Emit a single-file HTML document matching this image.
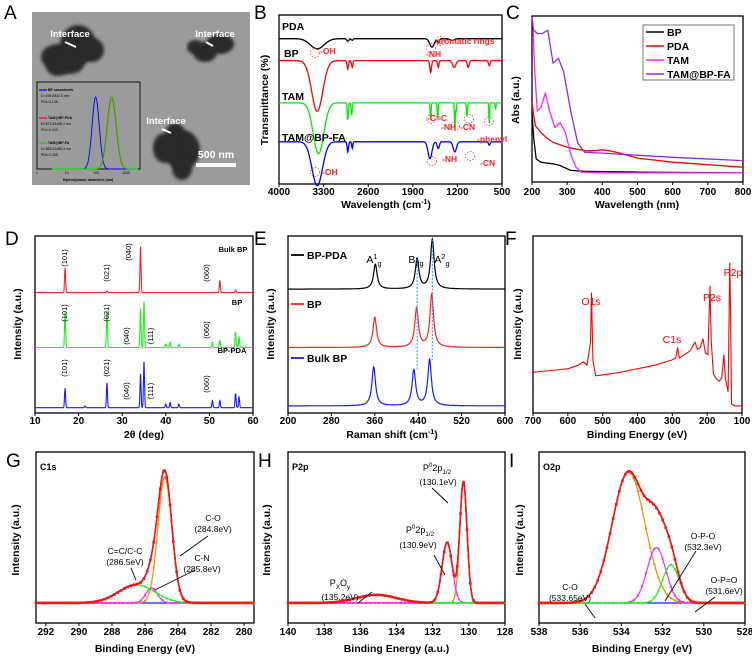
<!DOCTYPE html>
<html><head><meta charset="utf-8"><style>
html,body{margin:0;padding:0;background:#fff}
svg{display:block;font-family:"Liberation Sans",Arial,sans-serif}
</style></head><body>
<svg id="fig" width="752" height="661" viewBox="0 0 752 661" xmlns="http://www.w3.org/2000/svg"></svg>
<script>
// ---------- DATA ----------
// B: FTIR  [baseline, dips [pos, depth, width]]
const ftirNames=["PDA","BP","TAM","TAM@BP-FA"];
const ftirBase=[86,73,48,25];
const ftirDips=[
 [[3400,6,250],[2920,1.5,40],[2850,1,30],[1600,5,80],[1500,2,40],[1280,1,80]],
 [[3400,30,200],[2920,5,25],[2850,4,25],[1620,7,30],[1500,4,25],[1250,4,60],[1030,4,35],[700,3,30]],
 [[3380,30,190],[2920,10,20],[2860,7,20],[1620,10,16],[1510,9,16],[1240,16,14],[1220,6,12],[1050,8,18],[700,12,14],[600,4,14]],
 [[3400,26,190],[2920,6,25],[2850,4,20],[1630,10,70],[1500,4,40],[1240,6,60],[700,2,30]]
];
// C: UV-vis
const uvNames=["BP","PDA","TAM","TAM@BP-FA"];
const uvWl=[
 [200,205,212,225,240,260,280,300,310,350,400,500,800],
 [200,205,210,225,240,260,300,350,380,400,420,450,500,600,700,800],
 [200,203,207,215,225,238,250,265,280,295,310,325,340,400,800],
 [200,203,205,215,230,245,260,275,290,310,330,350,400,600,800]
];
const uvAbs=[
 [0.42,0.26,0.14,0.12,0.115,0.11,0.1,0.08,0.07,0.065,0.063,0.06,0.055],
 [0.48,0.4,0.34,0.3,0.27,0.24,0.21,0.19,0.19,0.195,0.19,0.175,0.145,0.12,0.105,0.09],
 [1.0,0.95,0.7,0.43,0.45,0.54,0.43,0.33,0.36,0.3,0.17,0.09,0.06,0.055,0.055],
 [1.0,0.93,0.92,0.9,0.9,0.92,0.72,0.75,0.67,0.43,0.235,0.18,0.175,0.15,0.13]
];
// D: XRD
const xrdNames=["Bulk BP","BP","BP-PDA"];
const xrdBase=[68,37,3];
const xrdPeaks=[
 [[16.9,14],[26.5,1],[34.2,26],[52.4,7],[56,1.5]],
 [[16.9,20],[26.5,21],[34.2,22],[35.0,26],[40,2],[41,3],[43,2],[50.7,3],[52.4,4],[56,9],[56.8,6]],
 [[16.9,11],[21.5,1],[26.5,14],[34.2,19],[35.0,26],[40,2],[41,3],[43,2],[50.7,4],[52.4,4],[56,8],[56.8,6]]
];
// E: Raman
const ramNames=["BP-PDA","BP","Bulk BP"];
const ramBase=[70,37,4];
const ramPeaks=[
 [[361,14],[438,17],[466,28]],
 [[360,17],[437,22],[465,30]],
 [[358,22],[432,20],[461,26]]
];
// F: XPS survey
const surEv=[700,650,600,570,555,545,535,532,528,520,500,450,400,350,300,290,285,280,250,235,228,220,212,205,198,192,188,182,172,165,158,152,148,140,135,133,130,120,100];
const surInt=[23,24,25,27,29,27,40,68,30,21,21.5,23,25,27,30,31,37,31,35,40,36,37,42,34,33,72,40,22,19,18,20,33,20,12,85,60,5,4,4];
// G/H/I: XPS fits [center, height, sigma]
const c1sPeaks=[[284.8,125,0.42],[285.6,15,0.35],[286.5,18,1.1]];
const p2pPeaks=[[130.3,120,0.2],[131.2,60,0.28],[135.1,8,1.1]];
const o2pPeaks=[[533.65,130,0.8],[532.3,55,0.45],[531.6,38,0.4]];

// ---------- helpers ----------
const NS="http://www.w3.org/2000/svg";
const svg=document.getElementById('fig');
function el(tag,attrs,parent){const e=document.createElementNS(NS,tag);for(const k in attrs)e.setAttribute(k,attrs[k]);(parent||svg).appendChild(e);return e;}
function txt(s,x,y,size,attrs,parent){const t=el('text',Object.assign({x:x,y:y,'font-size':size,'font-weight':'bold','text-anchor':'middle',fill:'#000'},attrs||{}),parent);t.textContent=s;return t;}
function rich(segs,x,y,size){const t=el('text',{x:x,y:y,'font-size':size,'text-anchor':'middle',fill:'#000'});let cur=0;
 segs.forEach(s=>{const want=s[1]==='sup'?-4:s[1]==='sub'?3:0;const sp=el('tspan',{dy:want-cur,'font-size':s[1]?size*0.7:size},t);sp.textContent=s[0];cur=want;});return t;}
function lin(d0,d1,r0,r1){return v=>r0+(v-d0)/(d1-d0)*(r1-r0);}
function pathD(xs,ys,sx,sy){return xs.map((x,i)=>(i?'L':'M')+sx(x).toFixed(1)+','+sy(ys[i]).toFixed(1)).join('');}
function gauss(x,c,h,s){return h*Math.exp(-0.5*((x-c)/s)**2);}
function lor(x,c,h,w){return h/(1+((x-c)/w)**2);}
function frame(name,x0,y0,x1,y1){const r=el('rect',{x:x0,y:y0,width:x1-x0,height:y1-y0,fill:'none',stroke:'#000','stroke-width':1.3});}
function xticks(name,sx,ticks,y1,ty){const g=el('g',{});
 ticks.forEach(t=>{el('line',{x1:sx(t),x2:sx(t),y1:y1,y2:y1+3,stroke:'#000','stroke-width':1},g);txt(String(t),sx(t),ty,10,{},g);});}
function ylab(name,s,x,y){const t=txt(s,x,y,10.5,{transform:`rotate(-90 ${x} ${y})`});}
function xlab(name,s,x,y){const t=txt(s,x,y,10.5);return t;}
function letter(s,x,y){const t=txt(s,x,y,19,{'font-weight':'normal','text-anchor':'start'});}
function range(a,b,n){const r=[];for(let i=0;i<=n;i++)r.push(a+(b-a)*i/n);return r;}

// ---------- A: TEM ----------
letter('A',4,19);
const gA=el('g',{});
el('rect',{x:32,y:12,width:218,height:173,fill:'#9b9b9b'},gA);
const defs=el('defs',{});const f=el('filter',{id:'bl'},defs);el('feGaussianBlur',{stdDeviation:1.5},f);
[[58,57,17,13],[78,45,18,20],[92,50,12,12],[58,66,12,10],[70,62,15,12],[205,52,12,10],[220,44,14,10],[195,47,8,7],[182,150,18,20],[175,135,10,12],[182,168,10,12],[165,148,12,15]].forEach(b=>el('ellipse',{cx:b[0],cy:b[1],rx:b[2],ry:b[3],fill:'#2a2a2a',filter:'url(#bl)'},gA));
[['Interface',70,37,65,42,76,47],['Interface',215,37,206,42,213,46],['Interface',166,124,162,129,171,133]].forEach(a=>{txt(a[0],a[1],a[2],9.5,{fill:'#fff'},gA);el('line',{x1:a[3],y1:a[4],x2:a[5],y2:a[6],stroke:'#fff','stroke-width':2},gA);});
el('rect',{x:196,y:163,width:40,height:4,fill:'#fff'},gA);
txt('500 nm',216,158,10.5,{fill:'#fff'},gA);
// inset
const gI=el('g',{});
el('rect',{x:37,y:82,width:103,height:87,fill:'none',stroke:'#111','stroke-width':1},gI);
const lx=v=>37+(Math.log10(v))/3*89, ly=v=>169-v*72;
[1,10,100,1000].forEach(t=>{txt(String(t),lx(t),174,3.5,{'font-weight':'normal'},gI);});
txt('Hydrodynamic diameters (nm)',88,181,3.5,{},gI);
const dlsC=[95,330,340], dlsCol=['#0000ff','#ff0000','#00dd00'], dlsW=[0.12,0.15,0.15];
dlsC.forEach((c,i)=>{const xs=range(0.5,3.4,120);const ys=xs.map(l=>Math.exp(-0.5*((l-Math.log10(c))/dlsW[i])**2));
 el('path',{d:xs.map((l,j)=>(j?'L':'M')+lx(10**l)+','+ly(ys[j])).join(''),fill:'none',stroke:dlsCol[i],'stroke-width':0.9},gI);});
[['BP nanosheets','D=195.88±2.6 nm','PDI=0.138',90],['TAM@BP-PDA','D=573.44±96.2 nm','PDI=0.243',118],['TAM@BP-FA','D=583.01±85.3 nm','PDI=0.285',143]].forEach((t,i)=>{
 el('line',{x1:39,x2:47,y1:t[3],y2:t[3],stroke:dlsCol[i],'stroke-width':1.2},gI);
 txt(t[0],48,t[3]+1.2,3.5,{'text-anchor':'start'},gI);txt(t[1],41,t[3]+7,3.5,{'text-anchor':'start','font-weight':'normal'},gI);txt(t[2],41,t[3]+13,3.5,{'text-anchor':'start','font-weight':'normal'},gI);});

// ---------- B: FTIR ----------
letter('B',254,19);
(function(){const X0=279,X1=502,Y0=15,Y1=184;const sx=lin(4000,500,X0,X1), sy=lin(0,100,Y1,Y0);
 frame('ftir',X0,Y0,X1,Y1);
 const cols=['#000','#ff0000','#00ee00','#0000ff'];
 const xs=range(4000,500,700);
 ftirNames.forEach((n,i)=>{const ys=xs.map(x=>ftirBase[i]-ftirDips[i].reduce((a,d)=>a+gauss(x,d[0],d[1],d[2]/2.3),0));
  const p=el('path',{d:pathD(xs,ys,sx,sy),fill:'none',stroke:cols[i],'stroke-width':1.3});
  
  const t=txt(n,[282,284,282,282][i],[30,57,100,141][i],10.5,{'text-anchor':'start'});});
 const red='#ff2020';
 [[-1,'-OH',320,54],[-1,'-NH',426,57],[-1,'aromatic rings',436,44],[-1,'-C=C',427,121],[-1,'-NH',441,130],[-1,'-CN',460,130],[-1,'-phenyl',477,142],[-1,'-OH',322,175],[-1,'-NH',442,162],[-1,'-CN',480,166]].forEach(a=>txt(a[1],a[2],a[3],8.5,{fill:red,'text-anchor':'start'}));
 [[315,53],[431,48],[440,41],[431,119],[455,126],[469,119],[489,121],[315,172],[432,161],[470,156]].forEach(c=>el('circle',{cx:c[0],cy:c[1],r:4.5,fill:'none',stroke:red,'stroke-width':0.7,'stroke-dasharray':'1.5,1.5'}));
 xticks('ftir',sx,[4000,3300,2600,1900,1200,500],Y1,195);
 const t=xlab('ftir','Wavelength (cm',386,208);const ts=el('tspan',{dy:-4,'font-size':7},t);ts.textContent='-1';const t2=el('tspan',{dy:4},t);t2.textContent=')';
 ylab('ftir','Transmittance (%)',268,100);})();

// ---------- C: UV ----------
letter('C',506,19);
(function(){const X0=532,X1=743,Y0=16,Y1=182;const sx=lin(200,800,X0,X1), sy=lin(0,1,Y1,Y0+1);
 frame('uv',X0,Y0,X1,Y1);
 const cols=['#000','#ff0000','#ff22ff','#8a2be2'];
 uvNames.forEach((n,i)=>{const p=el('path',{d:pathD(uvWl[i],uvAbs[i],sx,sy),fill:'none',stroke:cols[i],'stroke-width':1.3,'stroke-linejoin':'round'});
  });
 const lg=el('g',{});
 el('rect',{x:643,y:25,width:91,height:55,fill:'#fff',stroke:'#555','stroke-width':0.8},lg);
 uvNames.forEach((n,i)=>{el('line',{x1:646,x2:664,y1:32+i*14,y2:32+i*14,stroke:cols[i],'stroke-width':1.5},lg);txt(n,667,36+i*14,10.5,{'text-anchor':'start'},lg);});
 xticks('uv',sx,[200,300,400,500,600,700,800],Y1,195);
 xlab('uv','Wavelength (nm)',637,208);ylab('uv','Abs (a.u.)',519,100);})();

// ---------- D: XRD ----------
letter('D',5,245);
(function(){const X0=35,X1=253,Y0=236,Y1=413;const sx=lin(10,60,X0,X1), sy=lin(0,100,Y1,Y0);
 frame('xrd',X0,Y0,X1,Y1);
 const cols=['#ff2020','#22ee22','#1a1aff'];const xs=range(10,60,1000);
 xrdNames.forEach((n,i)=>{const ys=xs.map(x=>xrdBase[i]+xrdPeaks[i].reduce((a,p)=>a+gauss(x,p[0],p[1],0.12),0));
  const p=el('path',{d:pathD(xs,ys,sx,sy),fill:'none',stroke:cols[i],'stroke-width':1.1});
  
  txt(n,[233,237,232][i],[252,305,353][i],7.5,{});});
 function vl(s,x,y){txt(s,x,y,7.5,{transform:`rotate(-90 ${x} ${y})`,'font-weight':'normal'});}
 vl('(101)',67,258);vl('(021)',109,273);vl('(040)',131,252);vl('(060)',209,273);
 vl('(101)',67,313);vl('(021)',109,313);vl('(040)',129,336);vl('(111)',153,336);vl('(060)',209,330);
 vl('(101)',67,368);vl('(021)',109,368);vl('(040)',129,391);vl('(111)',153,391);vl('(060)',209,384);
 xticks('xrd',sx,[10,20,30,40,50,60],Y1,424);
 xlab('xrd','2θ (deg)',144,438);ylab('xrd','Intensity (a.u.)',21,324);})();

// ---------- E: Raman ----------
letter('E',254,245);
(function(){const X0=288,X1=505,Y0=236,Y1=413;const sx=lin(200,600,X0,X1), sy=lin(0,100,Y1,Y0);
 frame('raman',X0,Y0,X1,Y1);
 const cols=['#000','#ff2020','#1a1aff'];const xs=range(200,600,800);
 ramNames.forEach((n,i)=>{const ys=xs.map(x=>ramBase[i]+ramPeaks[i].reduce((a,p)=>a+lor(x,p[0],p[1],4),0));
  const p=el('path',{d:pathD(xs,ys,sx,sy),fill:'none',stroke:cols[i],'stroke-width':1.2});
  
  const y=[255,304,358][i];el('line',{x1:291,x2:304,y1:y,y2:y,stroke:cols[i],'stroke-width':1.8});txt(n,307,y+4,10.5,{'text-anchor':'start'});});
 [0,1].forEach(k=>el('line',{x1:sx(ramPeaks[0][k+1][0]),x2:sx(ramPeaks[0][k+1][0]),y1:sy(ramBase[0]+ramPeaks[0][k+1][1]),y2:sy(ramBase[2]+ramPeaks[2][k+1][1]),stroke:'#2299ff','stroke-width':1,'stroke-dasharray':'2,1.5'}));
 rich([['A',''],['1','sup'],['g','sub']],374,263,10.5);
 rich([['B',''],['2g','sub']],416,263,10.5);
 rich([['A',''],['2','sup'],['g','sub']],442,263,10.5);
 xticks('raman',sx,[200,280,360,440,520,600],Y1,424);
 const t=xlab('raman','Raman shift (cm',392,438);const ts=el('tspan',{dy:-4,'font-size':7},t);ts.textContent='-1';const t2=el('tspan',{dy:4},t);t2.textContent=')';
 ylab('raman','Intensity (a.u.)',274,324);})();

// ---------- F: Survey ----------
letter('F',505,245);
(function(){const X0=533,X1=742,Y0=236,Y1=413;const sx=lin(700,100,X0,X1), sy=lin(0,100,Y1,Y0);
 frame('xps-survey',X0,Y0,X1,Y1);
 const p=el('path',{d:pathD(surEv,surInt,sx,sy),fill:'none',stroke:'#ff0000','stroke-width':1.1});
 
 [['O1s',591,305],['C1s',672,343],['P2s',712,301],['P2p',733,276]].forEach(a=>txt(a[0],a[1],a[2],10.5,{fill:'#ff0000','font-weight':'normal'}));
 xticks('xps-survey',sx,[700,600,500,400,300,200,100],Y1,424);
 xlab('xps-survey','Binding Energy (eV)',637,438);ylab('xps-survey','Intensity (a.u.)',521,324);})();

// ---------- G/H/I fits ----------
function fitPanel(name,L,X0,X1,dom,peaks,ticks,xl,yx,labels,arrows){
 letter(L,X0-30,467);
 const Y0=452,Y1=623;const sx=lin(dom[0],dom[1],X0,X1), sy=lin(0,150,603,Y0);
 frame(name,X0,Y0,X1,Y1);
 const xs=range(dom[0],dom[1],400);
 const cols=['#ff8800','#ff22ff','#22ee22'];
 const pk=peaks.map(p=>xs.map(x=>gauss(x,p[0],p[1],p[2])));
 const sum=xs.map((x,j)=>pk.reduce((a,c)=>a+c[j],0));
 el('path',{d:pathD(xs,sum.map(v=>v+0.5),sx,sy),fill:'none',stroke:'#000','stroke-width':1.4});
 el('path',{d:pathD(xs,xs.map(()=>0),sx,sy),fill:'none',stroke:'#1a1aff','stroke-width':1.2});
 pk.forEach((c,i)=>{const pp=el('path',{d:pathD(xs,c,sx,sy),fill:'none',stroke:cols[i],'stroke-width':1.2});
  xs.forEach((x,j)=>{if(j%8==0)el('rect',{x:sx(x)-1,y:sy(c[j])-1,width:2,height:2,fill:cols[i]});});});
 const sp=el('path',{d:pathD(xs,sum,sx,sy),fill:'none',stroke:'#ff1010','stroke-width':1.5});
 xs.forEach((x,j)=>{if(j%6==0)el('rect',{x:sx(x)-1.3,y:sy(sum[j])-1.3,width:2.6,height:2.6,fill:'#ff1010'});});
 txt(name==='c1s'?'C1s':name==='p2p'?'P2p':'O2p',X0+4,470,9,{'text-anchor':'start'});
 labels.forEach(l=>{if(typeof l[0]==='string')txt(l[0],l[1],l[2],8.5,{'font-weight':'normal'});else rich(l[0],l[1],l[2],9);});
 arrows.forEach(a=>el('line',{x1:a[0],y1:a[1],x2:a[2],y2:a[3],stroke:'#000','stroke-width':0.9}));
 xticks(name,sx,ticks,Y1,635);
 xlab(name,xl,(X0+X1)/2,652);ylab(name,'Intensity (a.u.)',yx,540);
}
const p02=[['P',''],['0','sup'],['2p',''],['1/2','sub']];
fitPanel('c1s','G',36,254,[292.6,279.4],c1sPeaks,[292,290,288,286,284,282,280],'Binding Energy (eV)',19,
 [['C-O',213,521],['(284.8eV)',213,532],['C-N',202,561],['(285.8eV)',202,572],['C=C/C-C',125,554],['(286.5eV)',125,565]],
 [[180,556,208,536],[155,590,195,570],[131,568,136,580]]);
fitPanel('p2p','H',288,505,[140,128],p2pPeaks,[140,138,136,134,132,130,128],'Binding Energy (a.u.)',270,
 [[p02,437,471],['(130.1eV)',438,485],[p02,420,533],['(130.9eV)',418,548],[[['P',''],['X','sub'],['O',''],['y','sub']],340,586],['(135.2eV)',340,600]],
 [[432,488,448,503],[434,555,445,575],[358,603,372,592]]);
fitPanel('o2p','I',539,745,[538,528],o2pPeaks,[538,536,534,532,530,528],'Binding Energy (eV)',523,
 [['O-P-O',703,539],['(532.3eV)',703,550],['O-P=O',724,583],['(531.6eV)',724,594],['C-O',570,590],['(533.65eV)',570,601]],
 [[696,551,665,601],[715,597,695,612],[585,604,595,618]]);
</script>
</body></html>
